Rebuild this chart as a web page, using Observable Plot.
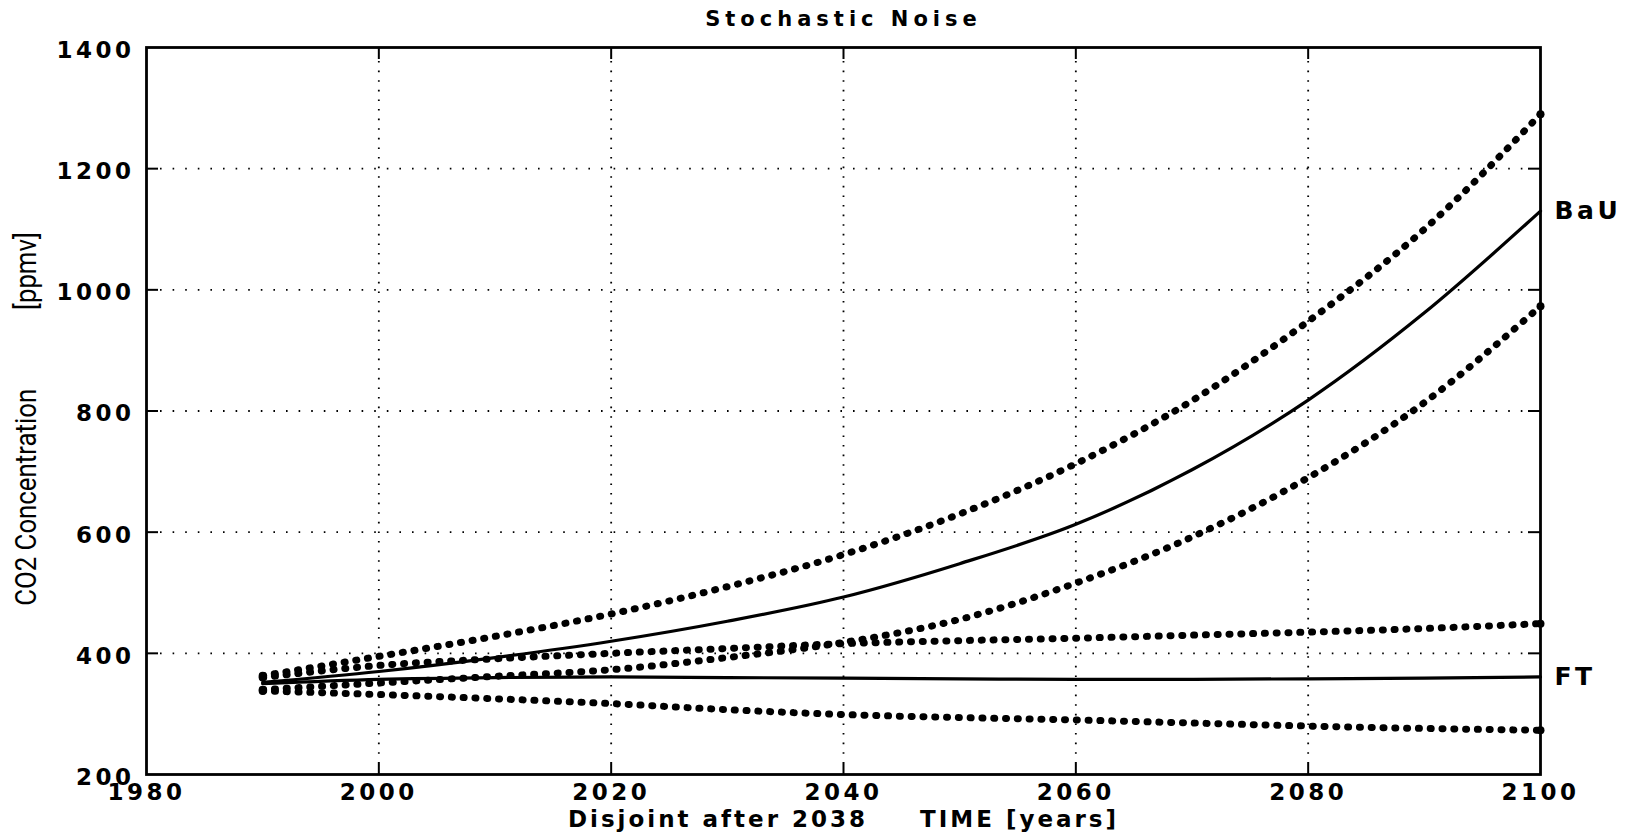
<!DOCTYPE html>
<html>
<head>
<meta charset="utf-8">
<script src="https://cdn.jsdelivr.net/npm/d3@7"></script>
<script src="https://cdn.jsdelivr.net/npm/@observablehq/plot@0.6"></script>
<style>
  html, body { margin: 0; padding: 0; background: #fff; }
  #chart svg { display: block; }
  g[aria-label="x-axis tick label"] text,
  g[aria-label="y-axis tick label"] text { letter-spacing: 3.5px; }
</style>
</head>
<body>
<div id="chart"></div>
<script>
// ---- data ----
const titleText = "Stochastic Noise";
const xLabelText = "Disjoint after 2038\u2003\u2003TIME [years]";
const yLabelText = "CO2 Concentration\u2003\u2003\u2003[ppmv]";

const years   = [1990, 2000, 2010, 2020, 2030, 2040, 2050, 2060, 2070, 2080, 2090, 2100];
const bau     = [352, 370, 393, 420, 453, 493, 548, 613, 703, 818, 962, 1130];
const bauHigh = [363, 395, 428, 465, 510, 563, 630, 713, 817, 948, 1100, 1290];
const bauLow  = [340, 351, 362, 373, 393, 418, 456, 516, 592, 690, 814, 973];
const ft      = [350, 357, 360, 361, 360, 359, 358, 357, 357, 358, 359, 361];
const ftHigh  = [360, 380, 391, 400, 408, 416, 421, 425, 430, 435, 441, 449];
const ftLow   = [338, 332, 325, 317, 307, 299, 294, 290, 285, 280, 276, 273];

const xDomain = [1980, 2100];
const yDomain = [200, 1400];
const xTicks = [1980, 2000, 2020, 2040, 2060, 2080, 2100];
const yTicks = [200, 400, 600, 800, 1000, 1200, 1400];
const xInner = [2000, 2020, 2040, 2060, 2080];
const yInner = [400, 600, 800, 1000, 1200];

const solidNames = ["BaU", "FT"];
const solidSeries = [bau, ft];
const dottedNames = ["BaU high", "BaU low", "FT high", "FT low"];
const dottedSeries = [bauHigh, bauLow, ftHigh, ftLow];

// ---- tables built from the arrays ----
const toRows = (names, series) => names.flatMap((n, k) =>
  years.map((yr, i) => ({series: n, year: yr, value: series[k][i]})));
const solidRows = toRows(solidNames, solidSeries);
const dottedRows = toRows(dottedNames, dottedSeries);
const dottedEnds = dottedNames.flatMap((n, k) => [
  {year: years[0], value: dottedSeries[k][0]},
  {year: years[years.length - 1], value: dottedSeries[k][years.length - 1]}
]);
const labelRows = solidNames.map((n, k) => ({
  series: n, year: years[years.length - 1], value: solidSeries[k][years.length - 1]
}));

const W = 1638, H = 837;
const mTop = 47, mRight = 98, mBottom = 63, mLeft = 146;
const frameH = H - mTop - mBottom;
const frameW = W - mLeft - mRight;
const tickLen = 12;

const chart = Plot.plot({
  width: W,
  height: H,
  marginTop: mTop,
  marginRight: mRight,
  marginBottom: mBottom,
  marginLeft: mLeft,
  style: {fontFamily: "'DejaVu Sans', sans-serif", fontWeight: "bold", fontSize: "23px", color: "#000", background: "#fff"},
  x: {domain: xDomain, label: null},
  y: {domain: yDomain, label: null},
  marks: [
    // dotted grid
    Plot.ruleX(xInner, {x: d => d, stroke: "#000", strokeWidth: 1.8, strokeDasharray: "1.6 8", insetTop: 14, insetBottom: 14}),
    Plot.ruleY(yInner, {y: d => d, stroke: "#000", strokeWidth: 1.8, strokeDasharray: "1.6 11", insetLeft: 14, insetRight: 14}),
    // inner ticks
    Plot.ruleX(xInner, {x: d => d, stroke: "#000", strokeWidth: 2, insetTop: frameH - tickLen}),
    Plot.ruleX(xInner, {x: d => d, stroke: "#000", strokeWidth: 2, insetBottom: frameH - tickLen}),
    Plot.ruleY(yInner, {y: d => d, stroke: "#000", strokeWidth: 2, insetRight: frameW - tickLen}),
    Plot.ruleY(yInner, {y: d => d, stroke: "#000", strokeWidth: 2, insetLeft: frameW - tickLen}),
    // dotted envelopes
    Plot.line(dottedRows, {x: "year", y: "value", z: "series", curve: "monotone-x",
      stroke: "#000", strokeWidth: 7, strokeLinecap: "round", strokeDasharray: "1 10.8"}),
    Plot.dot(dottedEnds, {x: "year", y: "value", r: 4, fill: "#000"}),
    // solid central scenarios
    Plot.line(solidRows, {x: "year", y: "value", z: "series", curve: "monotone-x",
      stroke: "#000", strokeWidth: 3.2}),
    Plot.frame({stroke: "#000", strokeWidth: 2.8}),
    // axes
    Plot.axisX({ticks: xTicks, tickSize: 0, tickPadding: 9, tickFormat: d => String(d), fontSize: 23, fontWeight: "bold"}),
    Plot.axisY({ticks: yTicks, tickSize: 0, tickPadding: 12, tickFormat: d => String(d), fontSize: 23, fontWeight: "bold", dy: 3}),
    // end labels
    Plot.text(labelRows, {x: "year", y: "value", text: "series", dx: 14, textAnchor: "start",
      fontSize: 25, fontWeight: "bold"}),
    // title and axis titles
    Plot.text([titleText], {frameAnchor: "top", text: d => d, dy: -36, fontSize: 21, fontWeight: "bold"}),
    Plot.text([xLabelText], {frameAnchor: "bottom", text: d => d, dy: 52, fontSize: 23, fontWeight: "bold"}),
    Plot.text([yLabelText], {frameAnchor: "left", text: d => d, rotate: -90, dx: -120, dy: 8,
      textAnchor: "middle", fontSize: 30, fontWeight: "normal",
      fontFamily: "'Liberation Sans Narrow', 'Roboto', sans-serif"})
  ]
});

document.getElementById("chart").appendChild(chart);

const svg = d3.select(chart);
svg.selectAll("text").each(function () {
  const t = this.textContent;
  const el = d3.select(this);
  if (t === titleText) el.style("letter-spacing", "5px");
  else if (t === xLabelText) el.style("letter-spacing", "3px");
  else if (solidNames.includes(t)) el.style("letter-spacing", "3.5px");
  else if (t === yLabelText) {
    // emulate the condensed face of the original
    const tr = el.attr("transform");
    if (tr) el.attr("transform", tr + " scale(0.86,1)");
  }
});
</script>
</body>
</html>
